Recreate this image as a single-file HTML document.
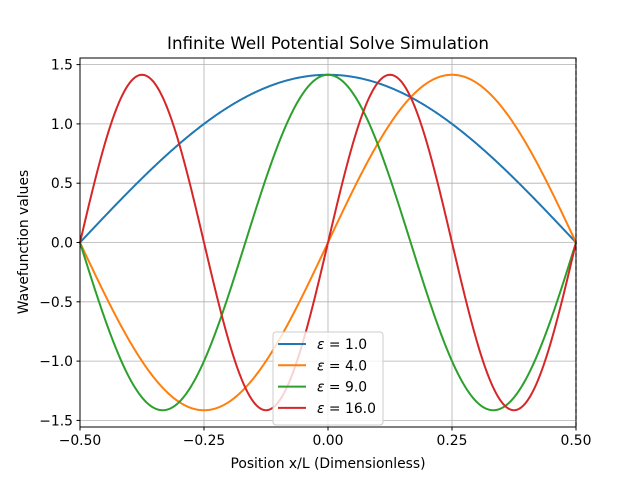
<!DOCTYPE html>
<html><head><meta charset="utf-8"><style>
body{margin:0;background:#fff}
svg{font-family:"DejaVu Sans","Liberation Sans",sans-serif}
</style></head><body>
<svg id="chart" width="640" height="480" viewBox="0 0 640 480">
<rect width="640" height="480" fill="#fff"/>
<g id="grid"></g>
<g id="series"></g>
<line x1="576" y1="58" x2="576" y2="427" stroke="#000" stroke-width="1.2" stroke-dasharray="4,2.5"/>
<rect x="80" y="58" width="496" height="369" fill="none" stroke="#000" stroke-width="1"/>
<g id="ticks" font-size="13.9"></g>
<text x="328" y="49" font-size="16.7" text-anchor="middle">Infinite Well Potential Solve Simulation</text>
<text x="328" y="468" font-size="13.9" text-anchor="middle">Position x/L (Dimensionless)</text>
<text x="28" y="242" font-size="13.9" text-anchor="middle" transform="rotate(-90 28 242)">Wavefunction values</text>
<g id="legend"></g>
</svg>
<script>
const energies = [1.0, 4.0, 9.0, 16.0];
const signs = [1, -1, -1, 1];
const colors = ['#1f77b4', '#ff7f0e', '#2ca02c', '#d62728'];
const xTicks = [-0.5, -0.25, 0, 0.25, 0.5];
const xTickLabels = ['\u22120.50', '\u22120.25', '0.00', '0.25', '0.50'];
const yTicks = [-1.5, -1.0, -0.5, 0, 0.5, 1.0, 1.5];
const yTickLabels = ['\u22121.5', '\u22121.0', '\u22120.5', '0.0', '0.5', '1.0', '1.5'];

const NS = 'http://www.w3.org/2000/svg';
const X0 = 80, X1 = 576, Y0 = 58, Y1 = 427;
const yMax = Math.SQRT2 * 1.1, yMin = -yMax;
const sx = v => X0 + (v + 0.5) / 1.0 * (X1 - X0);
const sy = v => Y1 - (v - yMin) / (yMax - yMin) * (Y1 - Y0);
function mk(tag, attrs, parent) {
  const e = document.createElementNS(NS, tag);
  for (const k in attrs) e.setAttribute(k, attrs[k]);
  parent.appendChild(e);
  return e;
}
const grid = document.getElementById('grid');
const ticks = document.getElementById('ticks');
xTicks.forEach((v, i) => {
  const g = mk('line', {x1: sx(v), x2: sx(v), y1: Y0, y2: Y1, stroke: '#b0b0b0', 'stroke-width': 0.8}, grid);
  
  
  const t = mk('line', {x1: sx(v), x2: sx(v), y1: Y1, y2: Y1 + 3.5, stroke: '#000'}, ticks);
  
  
  const l = mk('text', {x: sx(v), y: Y1 + 18, 'text-anchor': 'middle'}, ticks);
  l.textContent = xTickLabels[i];
  
  
});
yTicks.forEach((v, i) => {
  const g = mk('line', {x1: X0, x2: X1, y1: sy(v), y2: sy(v), stroke: '#b0b0b0', 'stroke-width': 0.8}, grid);
  
  
  const t = mk('line', {x1: X0 - 3.5, x2: X0, y1: sy(v), y2: sy(v), stroke: '#000'}, ticks);
  
  
  const l = mk('text', {x: X0 - 7, y: sy(v) + 5, 'text-anchor': 'end'}, ticks);
  l.textContent = yTickLabels[i];
  
  
});
const series = document.getElementById('series');
energies.forEach((eps, i) => {
  const n = Math.sqrt(eps);
  let d = '';
  for (let k = 0; k <= 400; k++) {
    const x = -0.5 + k / 400;
    const y = signs[i] * Math.SQRT2 * Math.sin(n * Math.PI * (x + 0.5));
    d += (k ? 'L' : 'M') + sx(x).toFixed(2) + ',' + sy(y).toFixed(2);
  }
  const p = mk('path', {d: d, fill: 'none', stroke: colors[i], 'stroke-width': 2}, series);
  
  
});
const legend = document.getElementById('legend');
mk('rect', {x: 273, y: 332, width: 110, height: 93, rx: 3, fill: '#fff', 'fill-opacity': 0.8, stroke: '#ccc'}, legend);
energies.forEach((eps, i) => {
  const y = 344 + i * 21.3;
  const ln = mk('line', {x1: 278, x2: 306, y1: y, y2: y, stroke: colors[i], 'stroke-width': 2}, legend);
  
  
  const t = mk('text', {x: 317, y: y + 5, 'font-size': 13.9}, legend);
  t.innerHTML = '<tspan font-style="italic">\u03b5</tspan> = ' + eps.toFixed(1);
  
  
});
</script>
</body></html>
